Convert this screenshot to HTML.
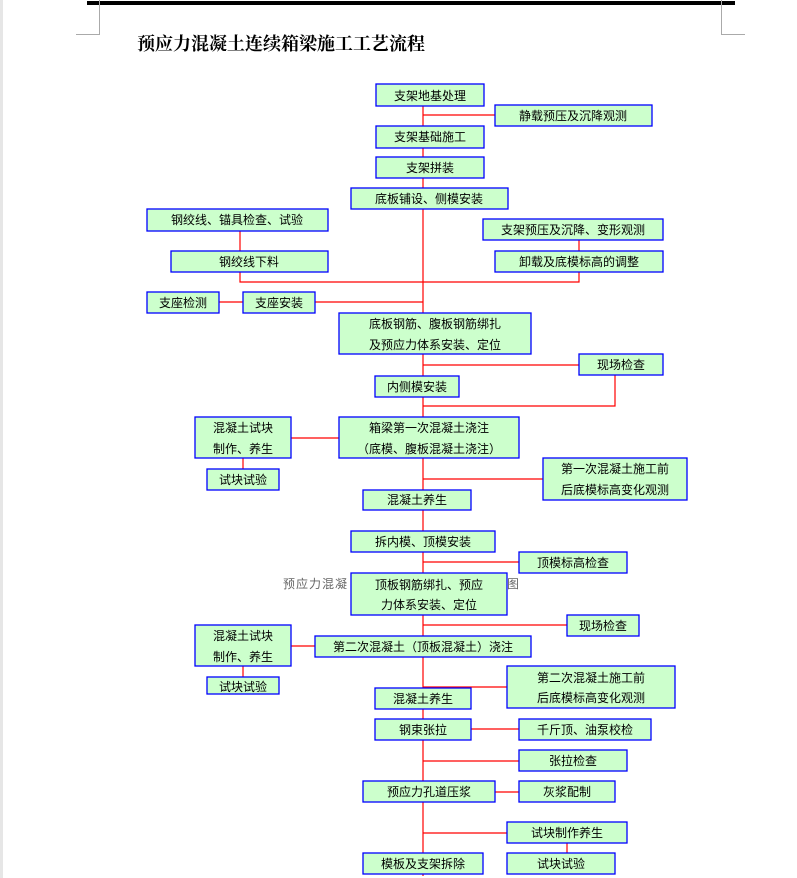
<!DOCTYPE html>
<html><head><meta charset="utf-8"><style>
html,body{margin:0;padding:0;background:#fff;width:797px;height:878px;overflow:hidden}
svg text{font-family:"Liberation Sans","Noto Sans CJK SC",sans-serif;font-size:12px;fill:#000}
</style></head><body>
<svg width="797" height="878" xmlns="http://www.w3.org/2000/svg">
<rect x="0" y="0" width="3" height="878" fill="#e6e6e6"/>
<rect x="87" y="1" width="648" height="4" fill="#000"/>
<g stroke="#aaa" stroke-width="1" fill="none">
<path d="M99.5 0V34.5H76"/><path d="M721.5 0V34.5H745"/>
</g>
<text x="137" y="50" style="font-family:'Liberation Serif','Noto Serif CJK SC',serif;font-size:18px;font-weight:bold">预应力混凝土连续箱梁施工工艺流程</text>
<text x="283" y="588" style="fill:#666;font-size:12px;letter-spacing:1px">预应力混凝</text>
<text x="507" y="588" style="fill:#666">图</text>
<g stroke="#f00" stroke-width="1.2" fill="none">
<path d="M423 106V876"/>
<path d="M423 115H495"/>
<path d="M240 231V251M240 272V282H579V272M579 240V251"/>
<path d="M219 302H243M315 302H423"/>
<path d="M423 365H579"/>
<path d="M615 375V406H423"/>
<path d="M291 438H339M243 458V469"/>
<path d="M423 479H543"/>
<path d="M423 562H519"/>
<path d="M423 625H567"/>
<path d="M291 646H315M243 666V677"/>
<path d="M423 687H507"/>
<path d="M471 729H519"/>
<path d="M423 761H519"/>
<path d="M495 792H519"/>
<path d="M423 833H507M567 843V853"/>
</g>
<g fill="#ccffcc" stroke="#0000ff" stroke-width="1.3">
<rect x="376" y="84" width="108" height="22"/>
<rect x="495" y="105" width="157" height="21"/>
<rect x="376" y="126" width="108" height="22"/>
<rect x="376" y="157" width="108" height="21"/>
<rect x="351" y="188" width="157" height="21"/>
<rect x="147" y="209" width="181" height="22"/>
<rect x="483" y="219" width="180" height="21"/>
<rect x="171" y="251" width="157" height="21"/>
<rect x="495" y="251" width="168" height="21"/>
<rect x="147" y="292" width="72" height="21"/>
<rect x="243" y="292" width="72" height="21"/>
<rect x="339" y="313" width="192" height="41"/>
<rect x="579" y="354" width="84" height="21"/>
<rect x="375" y="376" width="84" height="21"/>
<rect x="195" y="417" width="96" height="41"/>
<rect x="339" y="417" width="180" height="41"/>
<rect x="207" y="469" width="72" height="21"/>
<rect x="543" y="458" width="144" height="42"/>
<rect x="363" y="490" width="108" height="20"/>
<rect x="351" y="531" width="144" height="21"/>
<rect x="519" y="552" width="108" height="21"/>
<rect x="351" y="573" width="156" height="42"/>
<rect x="567" y="615" width="72" height="21"/>
<rect x="195" y="625" width="96" height="41"/>
<rect x="315" y="636" width="216" height="21"/>
<rect x="207" y="677" width="72" height="17"/>
<rect x="507" y="666" width="168" height="42"/>
<rect x="375" y="688" width="96" height="21"/>
<rect x="375" y="719" width="96" height="21"/>
<rect x="519" y="719" width="132" height="21"/>
<rect x="519" y="750" width="108" height="21"/>
<rect x="363" y="781" width="132" height="21"/>
<rect x="519" y="781" width="96" height="21"/>
<rect x="507" y="822" width="120" height="21"/>
<rect x="363" y="853" width="120" height="21"/>
<rect x="507" y="853" width="108" height="21"/>
</g>
<g text-anchor="middle">
<text x="430" y="100">支架地基处理</text>
<text x="573" y="120">静载预压及沉降观测</text>
<text x="430" y="141">支架基础施工</text>
<text x="430" y="172">支架拼装</text>
<text x="429" y="203">底板铺设、侧模安装</text>
<text x="237" y="224">钢绞线、锚具检查、试验</text>
<text x="573" y="234">支架预压及沉降、变形观测</text>
<text x="249" y="266">钢绞线下料</text>
<text x="579" y="266">卸载及底模标高的调整</text>
<text x="183" y="307">支座检测</text>
<text x="279" y="307">支座安装</text>
<text x="435" y="328">底板钢筋、腹板钢筋绑扎</text>
<text x="435" y="349">及预应力体系安装、定位</text>
<text x="621" y="369">现场检查</text>
<text x="417" y="391">内侧模安装</text>
<text x="243" y="432">混凝土试块</text>
<text x="243" y="453">制作、养生</text>
<text x="429" y="432">箱梁第一次混凝土浇注</text>
<text x="429" y="453">（底模、腹板混凝土浇注）</text>
<text x="243" y="484">试块试验</text>
<text x="615" y="473">第一次混凝土施工前</text>
<text x="615" y="494">后底模标高变化观测</text>
<text x="417" y="504">混凝土养生</text>
<text x="423" y="546">拆内模、顶模安装</text>
<text x="573" y="567">顶模标高检查</text>
<text x="429" y="589">顶板钢筋绑扎、预应</text>
<text x="429" y="609">力体系安装、定位</text>
<text x="603" y="630">现场检查</text>
<text x="243" y="640">混凝土试块</text>
<text x="243" y="661">制作、养生</text>
<text x="423" y="651">第二次混凝土（顶板混凝土）浇注</text>
<text x="243" y="691">试块试验</text>
<text x="591" y="682">第二次混凝土施工前</text>
<text x="591" y="702">后底模标高变化观测</text>
<text x="423" y="703">混凝土养生</text>
<text x="423" y="734">钢束张拉</text>
<text x="585" y="734">千斤顶、油泵校检</text>
<text x="573" y="765">张拉检查</text>
<text x="429" y="796">预应力孔道压浆</text>
<text x="567" y="796">灰浆配制</text>
<text x="567" y="837">试块制作养生</text>
<text x="423" y="868">模板及支架拆除</text>
<text x="561" y="868">试块试验</text>
</g>
</svg>
</body></html>
